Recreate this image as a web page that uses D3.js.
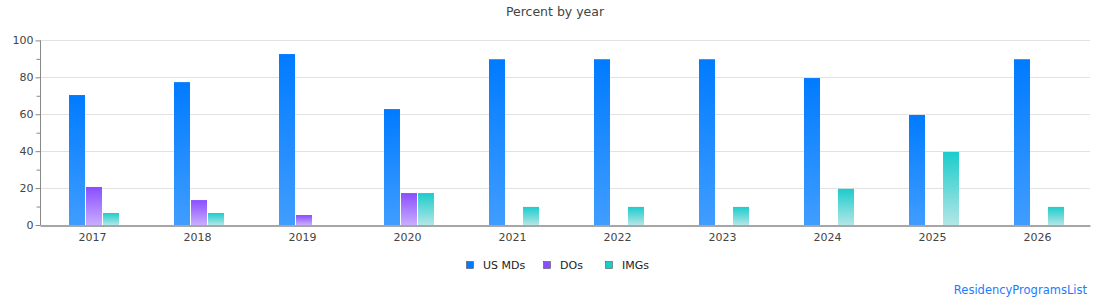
<!DOCTYPE html>
<html>
<head>
<meta charset="utf-8">
<script src="https://cdn.jsdelivr.net/npm/d3@7/dist/d3.min.js"></script>
<style>
  html, body { margin: 0; padding: 0; background: #fff; }
  svg { display: block; font-family: "DejaVu Sans", Verdana, sans-serif; }
</style>
</head>
<body>
<svg id="chart" width="1110" height="300"></svg>
<script>
const categories = ["2017","2018","2019","2020","2021","2022","2023","2024","2025","2026"];
const seriesNames = ["US MDs","DOs","IMGs"];
const usMDs = [70.4, 77.4, 92.6, 62.8, 89.8, 89.8, 89.8, 79.6, 59.6, 89.8];
const dos   = [20.6, 13.5, 5.4, 17.3, 0, 0, 0, 0, 0, 0];
const imgs  = [6.5, 6.5, 0, 17.3, 9.8, 9.8, 9.8, 19.6, 39.6, 9.8];
const yTicks = [0, 20, 40, 60, 80, 100];
const yMinorTicks = [10, 30, 50, 70, 90];

const seriesValues = [usMDs, dos, imgs];
const colorsTop = ["#007bff", "#8a4dff", "#1ccccc"];
const colorsBottom = ["#409dff", "#c8adff", "#b3e6e6"];

const svg = d3.select("#chart");
const pLeft = 40, pRight = 1090, pTop = 40.4, pBottom = 225;

const x0 = d3.scaleBand().domain(categories).range([pLeft, pRight]).padding(0);
const x1 = d3.scaleBand().domain(seriesNames).range([29, 79]).paddingInner(0.06).paddingOuter(0);
const y = d3.scaleLinear().domain([0, 100]).range([pBottom, pTop]);

const defs = svg.append("defs");
seriesNames.forEach((s, i) => {
  const g = defs.append("linearGradient").attr("id", "grad" + i)
    .attr("x1", 0).attr("y1", 0).attr("x2", 0).attr("y2", 1);
  g.append("stop").attr("offset", "0%").attr("stop-color", colorsTop[i]);
  g.append("stop").attr("offset", "100%").attr("stop-color", colorsBottom[i]);
});

// title
svg.append("text").attr("x", 555).attr("y", 16).attr("text-anchor", "middle")
  .attr("font-size", 12.5).attr("fill", "#444").text("Percent by year");

// gridlines
svg.append("g").selectAll("line").data(yTicks.filter(t => t > 0)).join("line")
  .attr("x1", pLeft).attr("x2", pRight)
  .attr("y1", d => Math.round(y(d)) + 0.5).attr("y2", d => Math.round(y(d)) + 0.5)
  .attr("stroke", "#e2e2e2").attr("stroke-width", 1);

// bars
const groups = svg.append("g").selectAll("g").data(categories).join("g")
  .attr("transform", d => `translate(${x0(d)},0)`);
groups.selectAll("rect")
  .data((c, ci) => seriesNames.map((s, si) => ({ s, si, v: seriesValues[si][ci] })).filter(d => d.v > 0))
  .join("rect")
  .attr("x", d => x1(d.s))
  .attr("width", x1.bandwidth())
  .attr("y", d => y(d.v))
  .attr("height", d => pBottom - y(d.v))
  .attr("fill", d => `url(#grad${d.si})`);

// y axis
const yAxis = d3.axisLeft(y).tickValues(yTicks).tickSize(5).tickPadding(2).tickFormat(d3.format("d"));
const yg = svg.append("g").attr("transform", `translate(${pLeft + 0.5},0)`).call(yAxis);
yg.select(".domain").attr("stroke", "#888").attr("d", `M0,${pTop}V${pBottom}`);
yg.selectAll(".tick line").attr("stroke", "#888");
yg.selectAll(".tick text").attr("fill", "#444").attr("font-size", 11)
  .attr("font-family", "DejaVu Sans, sans-serif");
const minorAxis = d3.axisLeft(y).tickValues(yMinorTicks).tickSize(4).tickFormat("");
const mg = svg.append("g").attr("transform", `translate(${pLeft + 0.5},0)`).call(minorAxis);
mg.select(".domain").remove();
mg.selectAll(".tick line").attr("stroke", "#888");

// x axis
const xAxis = d3.axisBottom(x0).tickSize(0).tickPadding(8);
const xg = svg.append("g").attr("transform", `translate(0,${pBottom + 0.5})`).call(xAxis);
xg.select(".domain").attr("stroke", "#888").attr("stroke-width", 1.3);
xg.selectAll(".tick text").attr("fill", "#444").attr("font-size", 11)
  .attr("font-family", "DejaVu Sans, sans-serif");

// legend
const legendX = [466, 543, 605];
const legend = svg.append("g");
seriesNames.forEach((s, i) => {
  legend.append("rect").attr("x", legendX[i] + 0.5).attr("y", 261.5).attr("width", 7).attr("height", 7)
    .attr("fill", colorsTop[i]).attr("stroke", "#555").attr("stroke-width", 0.6);
  legend.append("text").attr("x", legendX[i] + 17).attr("y", 269)
    .attr("font-size", 11).attr("fill", "#222").text(s);
});

// watermark
svg.append("text").attr("x", 1087).attr("y", 294).attr("text-anchor", "end")
  .attr("font-size", 11.5).attr("fill", "#1a7cff").text("ResidencyProgramsList");
</script>
</body>
</html>
